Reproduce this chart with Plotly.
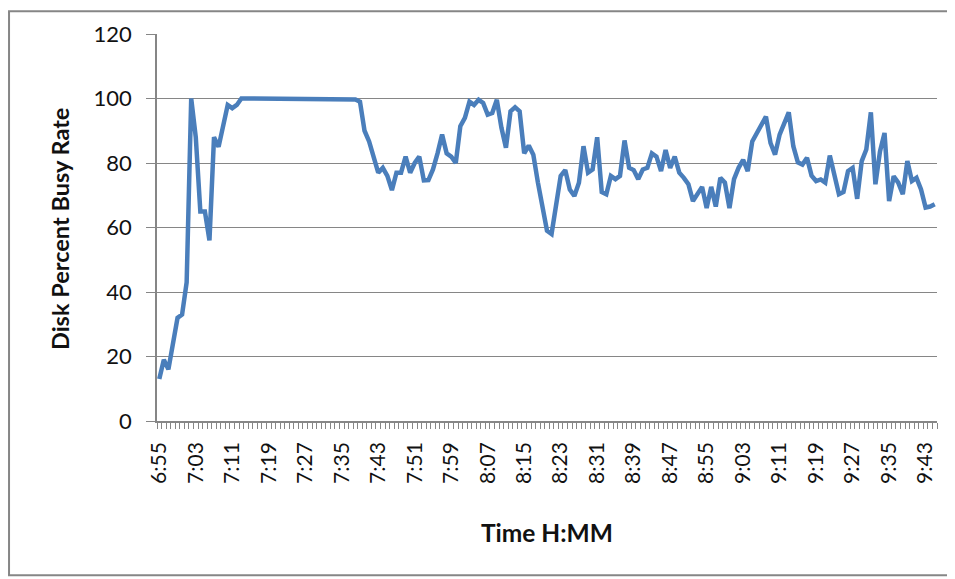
import plotly.graph_objects as go

busy_rate = [
    13, 19, 16, 25, 32, 33, 43, 100, 88, 65, 65, 56, 88, 85, 92, 98, 97, 98, 100,
    100, 100, 100, 100, 100, 100, 100, 100, 100, 100, 100, 100, 100, 100, 100, 100,
    100, 100, 100, 100, 100, 100, 100, 100, 99.7, 99,
    90, 86.7, 82, 77, 78.5, 76, 71.6, 77, 77, 82, 77, 80, 82, 74.6, 74.7, 78, 83,
    88.8, 83, 82, 80, 91.4, 94, 99, 98, 99.6, 98.6, 95, 95.5, 99.6, 91, 84.7, 96,
    97.3, 96, 83, 85.4, 82.6, 74,
    66, 59, 58, 67, 76, 77.8, 71.8, 69.8, 73.9, 85.2, 77, 78, 88, 71, 70.3, 76, 75,
    76, 87, 78.5, 77.8, 75, 78, 78.5, 83, 82, 77.5, 84, 78.5, 82, 77, 75.4, 73.4,
    68.2, 70.3, 72.6, 66, 72.6, 66.5, 75.4, 73.9, 66,
    75, 78.5, 81, 77.5, 86.7, 89.3, 91.5, 94.4, 86.2, 82.6, 88.8, 91.9, 95.7, 85.2,
    80.2, 79.5, 81.6, 76.1, 74.4, 74.9, 73.9, 82.3, 75.9, 70.3, 71, 77.5, 78.5,
    68.9, 80.6, 84.2, 95.7, 73.4, 83.6, 89.3, 68.2, 75.9, 73.9, 70.3, 80.6, 74.4,
    75.4, 71.8, 66.2, 66.5, 67.2,
]

tick_labels = ["6:55", "7:03", "7:11", "7:19", "7:27", "7:35", "7:43", "7:51",
               "7:59", "8:07", "8:15", "8:23", "8:31", "8:39", "8:47", "8:55",
               "9:03", "9:11", "9:19", "9:27", "9:35", "9:43"]
label_every = 8

y_ticks = [0, 20, 40, 60, 80, 100, 120]

n = len(busy_rate)
x_idx = list(range(n))
tick_pos = [i * label_every for i in range(len(tick_labels))]
boundaries = [i - 0.5 for i in range(n + 1)]

GRID = "#868686"
FONT = "Lato"
TXT = "#111111"

fig = go.Figure()
fig.add_trace(go.Scatter(
    x=x_idx, y=busy_rate, mode="lines",
    line=dict(color="#4A7EBB", width=4.5),
    hoverinfo="skip", showlegend=False,
))

xrange = [-0.5, n - 0.5]

# The page keeps its default 8px body margin, so the figure is 8px smaller
# and the margins are reduced by 8px on the left/top.
fig.update_layout(
    width=947, height=571,
    margin=dict(l=149, r=18, t=24, b=158),
    paper_bgcolor="white", plot_bgcolor="white",
    font=dict(family=FONT, color=TXT),
    xaxis=dict(
        range=xrange,
        tickmode="array", tickvals=tick_pos, ticktext=tick_labels,
        tickangle=-90, tickfont=dict(size=21, family=FONT, color=TXT),
        ticks="", showgrid=False, zeroline=False,
        showline=True, linecolor=GRID, linewidth=1.5,
        ticklabelstandoff=11,
        minor=dict(tickmode="array", tickvals=boundaries,
                   ticks="outside", ticklen=6, tickcolor=GRID, tickwidth=1.2,
                   showgrid=False),
    ),
    yaxis=dict(
        range=[0, 120], tickmode="array", tickvals=y_ticks,
        tickfont=dict(size=22, family=FONT, color=TXT),
        ticks="outside", ticklen=9, tickcolor=GRID, tickwidth=1.2,
        showgrid=True, gridcolor=GRID, gridwidth=1.2,
        zeroline=False, showline=True, linecolor=GRID, linewidth=1.5,
        ticklabelstandoff=10,
    ),
    annotations=[
        dict(text="<b>Disk Percent Busy Rate</b>", xref="paper", yref="paper",
             x=-0.1244, y=0.496, textangle=-90, showarrow=False,
             font=dict(size=23.5, family=FONT, color=TXT),
             xanchor="center", yanchor="middle"),
        dict(text="<b>Time H:MM</b>", xref="paper", yref="paper",
             x=0.5, y=-0.288, showarrow=False,
             font=dict(size=24.5, family=FONT, color=TXT),
             xanchor="center", yanchor="middle"),
    ],
    shapes=[
        dict(type="rect", xref="paper", yref="paper",
             x0=-0.1897, x1=1.0154, y0=-0.3985, y1=1.0591,
             line=dict(color=GRID, width=2), fillcolor="rgba(0,0,0,0)",
             layer="below"),
    ],
)

fig.write_html("out.html", config={"displayModeBar": False})
